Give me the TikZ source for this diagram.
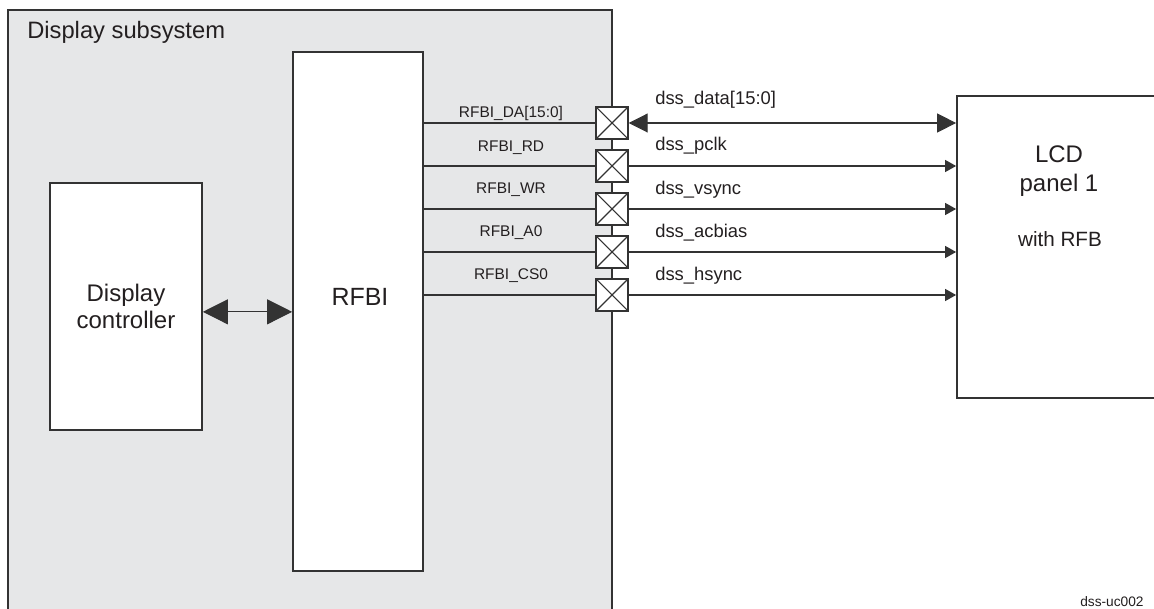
\documentclass[tikz,border=0pt]{standalone}
\usepackage{fontspec}
\setmainfont{Liberation Sans}
\usetikzlibrary{arrows.meta}
\definecolor{ln}{HTML}{333333}
\definecolor{subfill}{HTML}{E6E7E8}
\definecolor{tx}{HTML}{231F20}
\begin{document}
\begin{tikzpicture}[x=0.75pt,y=-0.75pt,
  box/.style={draw=ln,line width=1.3pt,fill=white,inner sep=0pt,text=tx},
  pad/.style={draw=ln,line width=1.1pt,fill=white,minimum size=24pt,inner sep=0pt,
    path picture={\draw[ln,line width=0.8pt]
      (path picture bounding box.north west)--(path picture bounding box.south east)
      (path picture bounding box.south west)--(path picture bounding box.north east);}},
  sig/.style={draw=ln,line width=0.8pt},
  bigtip/.style={{Triangle[length=18.75pt,width=18.75pt]}-{Triangle[length=18.75pt,width=18.75pt]}},
  datatip/.style={{Triangle[length=14.25pt,width=14.25pt]}-{Triangle[length=14.25pt,width=14.25pt]}},
  smalltip/.style={-{Triangle[length=8.25pt,width=9pt]}},
  rlab/.style={anchor=base,font=\fontsize{11.6}{13}\selectfont,text=tx,inner sep=0pt},
  dlab/.style={anchor=base west,font=\fontsize{13.8}{16}\selectfont,text=tx,inner sep=0pt},
]
\clip (0,0) rectangle (1154,609);
% Display subsystem
\node[draw=ln,line width=1.3pt,fill=subfill,minimum width=453pt,minimum height=457.5pt,inner sep=0pt] (sub) at (310,315) {};
\node[anchor=base west,font=\fontsize{17.8}{20}\selectfont,text=tx,inner sep=0pt] (subt) at (27,39) {Display subsystem};
% blocks
\node[box,minimum width=114pt,minimum height=185.25pt,align=center,font=\fontsize{18}{20.7}\selectfont] (dc) at (126,306.5) {Display\\controller};
\node[box,minimum width=97.5pt,minimum height=389.25pt] (rfbi) at (358,311.5) {};
\node[anchor=base,font=\fontsize{18.7}{21}\selectfont,text=tx,inner sep=0pt] (rfbit) at (360,306) {RFBI};
\node[box,minimum width=151.5pt,minimum height=226.5pt] (lcd) at (1058,247) {};
\node[anchor=base,font=\fontsize{18}{21}\selectfont,text=tx,inner sep=0pt] (lcd1) at (1059,163) {LCD};
\node[anchor=base,font=\fontsize{18}{21}\selectfont,text=tx,inner sep=0pt] (lcd2) at (1059,192) {panel 1};
\node[anchor=base,font=\fontsize{15.5}{18}\selectfont,text=tx,inner sep=0pt] (lcd3) at (1060,247) {with RFB};
% DC <-> RFBI
\draw[ln,line width=0.8pt,bigtip] ([yshift=-4pt]dc.east) -- ([yshift=-4pt]dc.east -| rfbi.west);
% pads
\coordinate (c1) at (612,123);
\coordinate (c2) at (612,166);
\coordinate (c3) at (612,209);
\coordinate (c4) at (612,252);
\coordinate (c5) at (612,295);
\foreach \i in {1,...,5}{
  \draw[sig] (rfbi.east |- c\i) -- (c\i);
}
\foreach \i in {1,...,5}{
  \node[pad] (p\i) at (c\i) {};
}
\draw[sig,datatip] (p1.east) -- (lcd.west |- p1);
\foreach \i in {2,...,5}{
  \draw[sig,smalltip] (p\i.east) -- (lcd.west |- p\i);
}
% labels
\node[rlab] (l1) at (511,117.5) {RFBI\_DA[15:0]};
\node[rlab] (l2) at (511,151.5) {RFBI\_RD};
\node[rlab] (l3) at (511,194) {RFBI\_WR};
\node[rlab] (l4) at (511,237) {RFBI\_A0};
\node[rlab] (l5) at (511,280) {RFBI\_CS0};
\node[dlab] (d1) at (655,105) {dss\_data[15:0]};
\node[dlab] (d2) at (655,151) {dss\_pclk};
\node[dlab] (d3) at (655,195) {dss\_vsync};
\node[dlab] (d4) at (655,238) {dss\_acbias};
\node[dlab] (d5) at (655,281) {dss\_hsync};
\node[anchor=base west,font=\fontsize{10.3}{12}\selectfont,text=tx,inner sep=0pt] (tag) at (1080,606) {dss-uc002};
\end{tikzpicture}
\end{document}
